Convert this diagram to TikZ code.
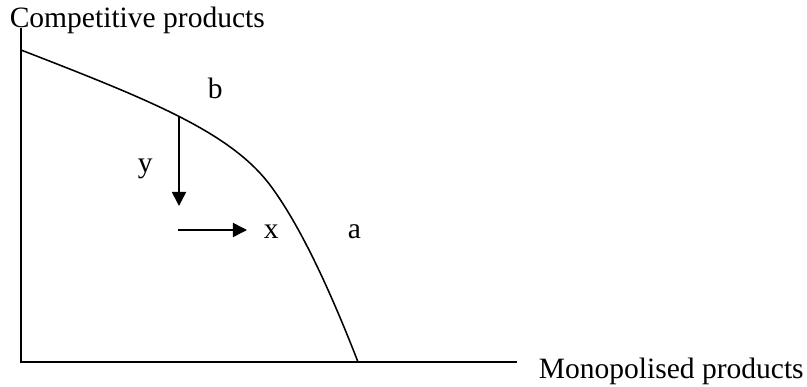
\documentclass[tikz,border=0pt]{standalone}
\usepackage{fontspec}
\setmainfont{Liberation Serif}
\usetikzlibrary{arrows.meta}
\begin{document}
\begin{tikzpicture}[x = 0.025cm, y = -0.025cm, line width = 1.1pt,
  lbl/.style = {anchor = base west, inner sep = 0pt, font = \fontsize{21}{25}\selectfont},
  move/.style = {-{Triangle[length = 10pt, width = 10pt]}}]
\useasboundingbox (0,0) rectangle (807,387);
\coordinate (o) at (21,362);
\coordinate (ytop) at (21,28);
\coordinate (xend) at (517,362);
\coordinate (c0) at (21,50);
\coordinate (cb) at (179,116);
\coordinate (cm) at (270,185);
\coordinate (ca) at (358,362);
\coordinate (ydown) at (179,206);
\coordinate (xs) at (178,230);
\coordinate (xe) at (247,230);
\node[lbl] at (9,28) (comp) {Competitive products};
\node[lbl] at (538,378) (mono) {Monopolised products};
\node[lbl] at (207,99) (lb) {b};
\node[lbl] at (137,172) (ly) {y};
\node[lbl] at (263,238) (lx) {x};
\node[lbl] at (347,238) (la) {a};
\draw (ytop) -- (o) -- (xend);
\draw (c0) .. controls (150,100) and (230,132) .. (cm)
  .. controls (300,225) and (330,290) .. (ca);
\draw[move] (cb) -- (ydown);
\draw[move] (xs) -- (xe);
\end{tikzpicture}
\end{document}
